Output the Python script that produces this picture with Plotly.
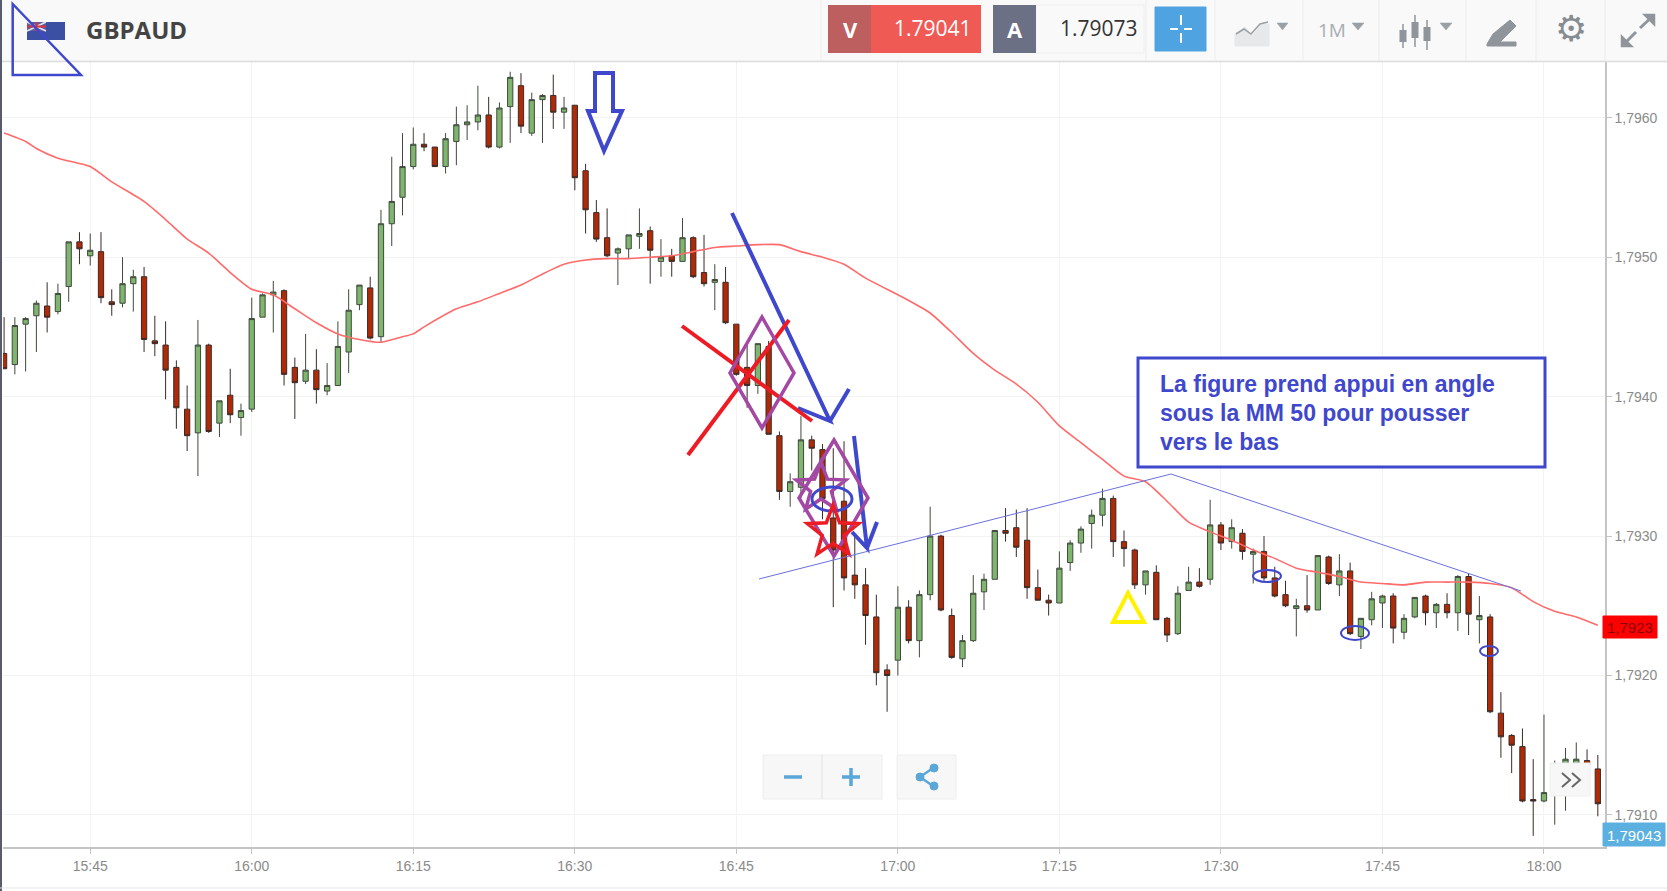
import math
import pandas as pd
import plotly.graph_objects as go

W, H = 1667, 891
PLOT_L, PLOT_R, PLOT_T, PLOT_B = 3, 1605, 62, 847

symbol = "GBPAUD"
sell_price = "1.79041"
buy_price = "1.79073"
ma_label = "1,7923"
last_label = "1,79043"
note_lines = ["La figure prend appui en angle", "sous la MM 50 pour pousser", "vers le bas"]
y_ticks = [1.7910, 1.7920, 1.7930, 1.7940, 1.7950, 1.7960]

first_candle = "2017-01-02 15:37"

candle_open = [
 1.79431,1.79423,1.79452,1.79458,1.79465,1.79461,1.79479,1.79511,1.79501,1.79504,1.79468,1.79467,1.79481,1.79486,1.79440,
 1.79437,1.79421,1.79391,1.79374,1.79437,1.79381,1.79401,1.79385,1.79391,1.79457,1.79473,1.79476,1.79421,1.79411,1.79419,
 1.79404,1.79408,1.79432,1.79466,1.79478,1.79443,1.79524,1.79543,1.79565,1.79581,1.79579,1.79565,1.79583,1.79595,1.79597,
 1.79602,1.79579,1.79608,1.79623,1.79589,1.79613,1.79616,1.79604,1.79609,1.79562,1.79532,1.79514,1.79503,1.79506,1.79515,
 1.79519,1.79497,1.79501,1.79497,1.79514,1.79489,1.79482,1.79482,1.79452,1.79421,1.79408,1.79436,1.79372,1.79332,1.79335,
 1.79369,1.79362,1.79313,1.79325,1.79272,1.79265,1.79242,1.79204,1.79211,1.79249,1.79225,1.79258,1.79300,1.79243,1.79212,
 1.79225,1.79260,1.79269,1.79304,1.79306,1.79297,1.79263,1.79254,1.79252,1.79281,1.79295,1.79309,1.79315,1.79327,1.79296,
 1.79290,1.79265,1.79274,1.79241,1.79230,1.79261,1.79267,1.79269,1.79308,1.79296,1.79302,1.79287,1.79289,1.79270,1.79258,
 1.79248,1.79250,1.79247,1.79285,1.79265,1.79275,1.79228,1.79240,1.79252,1.79257,1.79231,1.79242,1.79257,1.79245,1.79251,
 1.79245,1.79271,1.79240,1.79242,1.79173,1.79157,1.79149,1.79111,1.79110,1.79114,1.79134,1.79136,1.79139,1.79133]
candle_close = [
 1.79420,1.79451,1.79456,1.79467,1.79457,1.79474,1.79511,1.79506,1.79505,1.79471,1.79466,1.79481,1.79486,1.79441,1.79438,
 1.79419,1.79392,1.79372,1.79437,1.79375,1.79397,1.79387,1.79390,1.79456,1.79473,1.79475,1.79416,1.79410,1.79419,1.79405,
 1.79408,1.79436,1.79462,1.79480,1.79442,1.79524,1.79540,1.79565,1.79581,1.79579,1.79565,1.79585,1.79595,1.79597,1.79602,
 1.79579,1.79607,1.79629,1.79594,1.79613,1.79616,1.79604,1.79607,1.79557,1.79534,1.79513,1.79501,1.79506,1.79516,1.79517,
 1.79505,1.79500,1.79497,1.79514,1.79486,1.79481,1.79484,1.79453,1.79416,1.79408,1.79438,1.79373,1.79332,1.79339,1.79369,
 1.79363,1.79327,1.79290,1.79270,1.79265,1.79243,1.79202,1.79200,1.79249,1.79225,1.79258,1.79300,1.79247,1.79213,1.79225,
 1.79259,1.79269,1.79304,1.79302,1.79292,1.79263,1.79254,1.79252,1.79277,1.79295,1.79305,1.79315,1.79327,1.79296,1.79291,
 1.79265,1.79275,1.79240,1.79229,1.79259,1.79267,1.79264,1.79308,1.79295,1.79306,1.79289,1.79289,1.79270,1.79257,1.79250,
 1.79250,1.79247,1.79286,1.79266,1.79275,1.79230,1.79241,1.79255,1.79257,1.79234,1.79241,1.79256,1.79245,1.79251,1.79245,
 1.79271,1.79244,1.79243,1.79174,1.79156,1.79150,1.79110,1.79110,1.79116,1.79132,1.79140,1.79140,1.79135,1.79108]
candle_high = [
 1.79457,1.79457,1.79457,1.79469,1.79482,1.79481,1.79511,1.79518,1.79517,1.79518,1.79477,1.79500,1.79491,1.79493,1.79458,
 1.79454,1.79426,1.79408,1.79455,1.79438,1.79397,1.79420,1.79395,1.79471,1.79474,1.79483,1.79477,1.79428,1.79445,1.79434,
 1.79424,1.79454,1.79477,1.79480,1.79486,1.79534,1.79572,1.79589,1.79593,1.79589,1.79579,1.79589,1.79608,1.79609,1.79623,
 1.79615,1.79611,1.79633,1.79632,1.79618,1.79617,1.79631,1.79615,1.79609,1.79567,1.79541,1.79535,1.79507,1.79516,1.79535,
 1.79522,1.79513,1.79506,1.79528,1.79515,1.79516,1.79495,1.79493,1.79452,1.79438,1.79438,1.79440,1.79375,1.79345,1.79386,
 1.79372,1.79366,1.79363,1.79368,1.79300,1.79277,1.79258,1.79208,1.79264,1.79254,1.79261,1.79321,1.79301,1.79248,1.79229,
 1.79272,1.79273,1.79304,1.79320,1.79319,1.79320,1.79276,1.79258,1.79289,1.79297,1.79307,1.79319,1.79334,1.79329,1.79304,
 1.79291,1.79275,1.79279,1.79242,1.79264,1.79278,1.79277,1.79326,1.79310,1.79312,1.79305,1.79291,1.79300,1.79278,1.79268,
 1.79255,1.79272,1.79286,1.79286,1.79287,1.79281,1.79241,1.79260,1.79258,1.79259,1.79244,1.79256,1.79258,1.79252,1.79259,
 1.79272,1.79273,1.79257,1.79244,1.79188,1.79158,1.79162,1.79140,1.79172,1.79139,1.79148,1.79152,1.79147,1.79143]
candle_low = [
 1.79420,1.79416,1.79418,1.79432,1.79446,1.79459,1.79468,1.79495,1.79494,1.79467,1.79458,1.79464,1.79461,1.79432,1.79429,
 1.79398,1.79377,1.79361,1.79343,1.79374,1.79371,1.79381,1.79372,1.79389,1.79457,1.79446,1.79408,1.79384,1.79409,1.79395,
 1.79401,1.79408,1.79417,1.79462,1.79441,1.79439,1.79508,1.79530,1.79563,1.79576,1.79565,1.79560,1.79566,1.79584,1.79591,
 1.79578,1.79578,1.79582,1.79589,1.79587,1.79582,1.79592,1.79592,1.79548,1.79517,1.79511,1.79500,1.79480,1.79499,1.79506,
 1.79481,1.79486,1.79486,1.79497,1.79485,1.79479,1.79462,1.79452,1.79415,1.79392,1.79402,1.79373,1.79326,1.79321,1.79327,
 1.79347,1.79312,1.79249,1.79261,1.79255,1.79222,1.79193,1.79174,1.79200,1.79223,1.79213,1.79254,1.79246,1.79212,1.79206,
 1.79224,1.79247,1.79269,1.79296,1.79285,1.79255,1.79254,1.79243,1.79252,1.79275,1.79288,1.79291,1.79307,1.79285,1.79278,
 1.79262,1.79258,1.79240,1.79224,1.79229,1.79261,1.79263,1.79265,1.79290,1.79291,1.79283,1.79266,1.79268,1.79256,1.79249,
 1.79228,1.79245,1.79247,1.79265,1.79257,1.79229,1.79219,1.79236,1.79234,1.79223,1.79226,1.79241,1.79236,1.79234,1.79241,
 1.79232,1.79229,1.79223,1.79173,1.79141,1.79130,1.79109,1.79085,1.79109,1.79093,1.79103,1.79126,1.79118,1.79099]

ma_minutes = ["15:37","15:39","15:40","15:42","15:45","15:47","15:50","15:52","15:54","15:56","15:58","16:00","16:02","16:04",
 "16:06","16:08","16:10","16:12","16:14","16:15","16:16","16:19","16:21","16:23","16:25","16:27","16:29","16:31","16:33",
 "16:35","16:37","16:39","16:41","16:43","16:45","16:47","16:49","16:51","16:53","16:55","16:57","16:59","17:01","17:03",
 "17:05","17:07","17:09","17:11","17:13","17:15","17:17","17:19","17:21","17:23","17:25","17:27","17:29","17:31","17:33",
 "17:35","17:37","17:39","17:41","17:43","17:45","17:47","17:49","17:51","17:53","17:55","17:57","17:59","18:01","18:03","18:05"]
ma_values = [1.79589,1.79583,1.79578,1.79571,1.79565,1.79554,1.79540,1.79527,1.79513,1.79503,1.79489,1.79477,1.79473,1.79463,
 1.79453,1.79445,1.79441,1.79439,1.79443,1.79445,1.79450,1.79463,1.79468,1.79474,1.79480,1.79488,1.79495,1.79498,1.79499,
 1.79499,1.79500,1.79501,1.79504,1.79507,1.79508,1.79509,1.79509,1.79504,1.79500,1.79495,1.79485,1.79477,1.79469,1.79460,
 1.79446,1.79431,1.79419,1.79409,1.79396,1.79379,1.79367,1.79355,1.79343,1.79339,1.79325,1.79310,1.79303,1.79297,1.79290,
 1.79284,1.79277,1.79274,1.79271,1.79267,1.79266,1.79265,1.79267,1.79267,1.79267,1.79266,1.79263,1.79253,1.79246,1.79242,1.79236]

assert len(candle_open) == len(candle_close) == len(candle_high) == len(candle_low) == 149
assert len(ma_minutes) == len(ma_values)

BLUE = "#3f48cc"; RED = "#ed1c24"; PURPLE = "#a349a4"; YELLOW = "#fff200"; ICON = "#a9adb2"

times = pd.date_range(first_candle, periods=len(candle_open), freq="min")
ma_times = ["2017-01-02 " + m for m in ma_minutes]

fig = go.Figure()
fig.add_trace(go.Candlestick(
    x=times, open=candle_open, high=candle_high, low=candle_low, close=candle_close,
    whiskerwidth=0, hoverinfo="skip",
    increasing=dict(fillcolor="#7fb56f", line=dict(color="#3f4a3c", width=1)),
    decreasing=dict(fillcolor="#b02a08", line=dict(color="#3a2a26", width=1)),
))
fig.add_trace(go.Scatter(x=ma_times, y=ma_values, mode="lines", hoverinfo="skip",
                         line=dict(color="#ff6a6a", width=1.6, shape="spline", smoothing=0.6)))

X = lambda x: x / W
Y = lambda y: 1 - y / H
shapes, notes = [], []

def rect(x0, y0, x1, y1, fill, line=None, lw=0):
    shapes.append(dict(type="rect", xref="paper", yref="paper", x0=X(x0), x1=X(x1), y0=Y(y0), y1=Y(y1),
                       fillcolor=fill, line=dict(color=line or fill, width=lw)))

def poly(pts, color, lw=3.5, closed=False, fill=None):
    d = "M" + " L".join(f"{X(a):.5f} {Y(b):.5f}" for a, b in pts) + (" Z" if closed else "")
    shapes.append(dict(type="path", xref="paper", yref="paper", path=d,
                       fillcolor=fill or "rgba(0,0,0,0)", line=dict(color=color, width=lw)))

def ellipse(cx, cy, rx, ry, color, lw=2.5, fill=None):
    shapes.append(dict(type="circle", xref="paper", yref="paper", x0=X(cx-rx), x1=X(cx+rx), y0=Y(cy+ry), y1=Y(cy-ry),
                       fillcolor=fill or "rgba(0,0,0,0)", line=dict(color=color, width=lw)))

def star(cx, cy, R, color, lw=3.5):
    pts = []
    for k in range(10):
        r = R if k % 2 == 0 else R * 0.42
        a = -math.pi / 2 + k * math.pi / 5
        pts.append((cx + r * math.cos(a), cy + r * math.sin(a)))
    poly(pts, color, lw, closed=True)

def text(x, y, s, size, color, bold=False, anchor="center", family="Liberation Sans"):
    notes.append(dict(xref="paper", yref="paper", x=X(x), y=Y(y), text=f"<b>{s}</b>" if bold else s, showarrow=False,
                      xanchor=anchor, yanchor="middle", font=dict(size=size, color=color, family=family)))

# header bar
rect(0, 0, W, 61, "#f9f9f9")
poly([(0, 61.5), (W, 61.5)], "#dcdcdc", 1.5)
for sx in [821, 1146, 1215, 1303, 1379, 1466, 1536, 1605]:
    poly([(sx, 0), (sx, 61)], "#ececec", 1)
rect(0, 0, 2, H, "#565c6e")
poly([(0, 888), (W, 888)], "#e6e6e6", 1)

# flag
rect(27, 22, 65, 40, "#3b4fa3")
rect(27, 22, 46, 31, "#5a5f9e")
poly([(27, 22), (46, 31)], "#e9e6ee", 1.5); poly([(46, 22), (27, 31)], "#e9e6ee", 1.5)
poly([(36.5, 22), (36.5, 31)], "#d8333f", 2); poly([(27, 26.5), (46, 26.5)], "#d8333f", 2)
text(84, 30, symbol, 24, "#444444", True, "left", "Open Sans")

# price boxes
rect(828, 5, 981, 53, "#ef5a55")
rect(828, 5, 871, 53, "#bd5e5f")
text(850, 29, "V", 22, "#ffffff", True, family="Open Sans")
text(933, 28, sell_price, 21, "#ffffff", family="Open Sans")
rect(1036, 5, 1144, 53, "#f9f9f9", "#efefef", 1)
rect(993, 5, 1036, 53, "#6b7084")
text(1015, 29, "A", 22, "#ffffff", True, family="Open Sans")
text(1099, 28, buy_price, 21, "#333333", family="Open Sans")
rect(1155, 7, 1206, 51, "#4ea3e0", "#4ea3e0", 1)
for a, b in [((1170, 29), (1178, 29)), ((1184, 29), (1192, 29)), ((1181, 15), (1181, 25)), ((1181, 33), (1181, 43))]:
    poly([a, b], "#ffffff", 2)

# toolbar icons
poly([(1235, 46), (1235, 34), (1245, 27), (1252, 36), (1262, 24), (1269, 24), (1269, 46)], "#e6e8ea", 1, True, "#e6e8ea")
poly([(1236, 34), (1244, 29), (1251, 34), (1260, 24), (1268, 22)], "#9aa0a5", 1.5)
poly([(1277, 23), (1288, 23), (1282.5, 30)], "#9aa0a5", 0.5, True, "#9aa0a5")
text(1332, 30, "1M", 19, ICON, family="Open Sans")
poly([(1352, 23), (1364, 23), (1358, 30)], "#9aa0a5", 0.5, True, "#9aa0a5")
for cx, top, bot, a, b in [(1403, 24, 48, 30, 42), (1415, 15, 47, 22, 38), (1427, 20, 50, 27, 41)]:
    poly([(cx, top), (cx, bot)], "#8f959a", 1.5)
    rect(cx - 3.5, a, cx + 3.5, b, "#8f959a")
poly([(1440, 23), (1452, 23), (1446, 30)], "#9aa0a5", 0.5, True, "#9aa0a5")
poly([(1487, 44), (1493, 34), (1510, 20), (1516, 26), (1500, 42), (1516, 42), (1516, 46), (1487, 46)], "#8f959a", 1, True, "#8f959a")
text(1571, 29, "⚙", 36, "#868c92", family="DejaVu Sans")
poly([(1622, 46), (1636, 32)], "#8f959a", 3); poly([(1640, 28), (1654, 15)], "#8f959a", 3)
poly([(1622, 37), (1622, 46), (1631, 46)], "#8f959a", 2.5, True, "#8f959a")
poly([(1645, 15), (1654, 15), (1654, 24)], "#8f959a", 2.5, True, "#8f959a")

# hand-drawn marks
poly([(12.7, 4), (12.7, 75), (81, 75)], BLUE, 2.5, closed=True)
poly([(595, 73), (613, 73), (613, 111), (622, 111), (604, 151), (588, 111), (595, 111)], BLUE, 4, closed=True)
poly([(732, 213), (830, 421), (798, 408)], BLUE, 4)
poly([(830, 421), (849, 389)], BLUE, 4)
poly([(854, 436), (867, 548), (852, 532)], BLUE, 4)
poly([(867, 548), (877, 522)], BLUE, 4)
poly([(682, 326), (812, 421)], RED, 4)
poly([(789, 320), (688, 455)], RED, 4)
poly([(762, 317), (794, 373), (762, 428), (730, 373)], PURPLE, 3.5, closed=True)
poly([(834, 440), (868, 498), (834, 556), (799, 498)], PURPLE, 3.5, closed=True)
star(821, 488, 26, PURPLE)
ellipse(832, 499, 20, 12, BLUE, 3)
star(833, 532, 27, RED)
poly([(759, 579), (1171, 474), (1521, 591)], "#6a70dd", 1)
poly([(1128, 593), (1113, 622), (1144, 622)], YELLOW, 4, closed=True)
ellipse(1267, 576, 14, 6, BLUE, 2)
ellipse(1355, 633, 14, 7, BLUE, 2)
ellipse(1489, 651, 9, 5, BLUE, 2)

# note box
rect(1138, 358, 1545, 467, "#ffffff", BLUE, 3)
for i, line in enumerate(note_lines):
    text(1158, 384 + i * 29, line, 23, BLUE, True, "left")

# right-hand price flags
rect(1603, 616, 1657, 638, "#ff0000", "#ff0000", 1)
text(1630, 627, ma_label, 15, "#8b0000")
rect(1603, 823, 1665, 846, "#5bb0e0", "#5bb0e0", 1)
text(1634, 835, last_label, 15, "#ffffff")

# floating controls
rect(763, 755, 882, 799, "#f7f7f7", "#eeeeee", 1)
poly([(822, 755), (822, 799)], "#e2e2e2", 1)
poly([(784, 777), (802, 777)], "#5aa7d8", 3.5)
poly([(842, 777), (860, 777)], "#5aa7d8", 3.5); poly([(851, 768), (851, 786)], "#5aa7d8", 3.5)
rect(897, 755, 956, 799, "#f7f7f7", "#eeeeee", 1)
poly([(933, 768), (920, 777), (933, 786)], "#5aa7d8", 2.5)
for cx, cy in [(934, 768), (920, 777), (934, 786)]:
    ellipse(cx, cy, 4, 4, "#5aa7d8", 1, "#5aa7d8")
rect(1550, 763, 1590, 796, "#f7f7f7", "#f0f0f0", 1)
poly([(1562, 773), (1570, 780), (1562, 787)], "#666666", 2)
poly([(1572, 773), (1580, 780), (1572, 787)], "#666666", 2)

tick_font = dict(size=14, color="#8a8a8a", family="Liberation Sans")
fig.update_layout(
    width=W, height=H, margin=dict(l=0, r=0, t=0, b=0), showlegend=False,
    paper_bgcolor="#ffffff", plot_bgcolor="#ffffff", separators=", ",
    shapes=shapes, annotations=notes,
    xaxis=dict(domain=[PLOT_L / W, PLOT_R / W], type="date",
               range=["2017-01-02 15:36:54", "2017-01-02 18:05:40"],
               rangeslider=dict(visible=False), tick0="2017-01-02 15:00", dtick=900000, tickformat="%H:%M",
               showgrid=True, gridcolor="#f3f3f3", gridwidth=1, showline=True, linecolor="#c4c4c4", linewidth=1.5,
               ticks="outside", ticklen=5, tickcolor="#c4c4c4", tickfont=tick_font, zeroline=False),
    yaxis=dict(domain=[1 - PLOT_B / H, 1 - PLOT_T / H], side="right", range=[1.79077, 1.79640],
               tickvals=y_ticks, tickformat=".4f", showgrid=True, gridcolor="#f3f3f3", gridwidth=1,
               showline=True, linecolor="#c4c4c4", linewidth=1.5, ticks="outside", ticklen=5, tickcolor="#c4c4c4",
               tickfont=tick_font, zeroline=False),
)
fig.write_html("out.html", config=dict(displayModeBar=False),
               post_script="document.body.style.margin='0';document.body.style.overflow='hidden';")
